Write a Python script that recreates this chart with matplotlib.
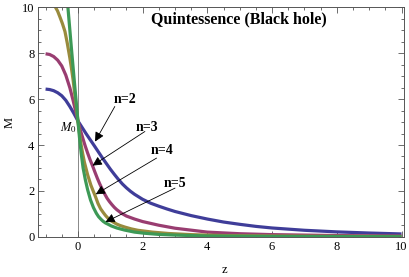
import matplotlib
matplotlib.use("Agg")
import matplotlib.pyplot as plt
from matplotlib.ticker import MultipleLocator

plt.rcParams['font.family'] = ['Liberation Serif', 'DejaVu Serif']
plt.rcParams['mathtext.fontset'] = 'stix'

# curves
z_n2 = [-1, -0.875, -0.75, -0.625, -0.5, -0.375, -0.25, -0.125, 0, 0.25, 0.5, 0.75,
        1.0, 1.125, 1.25, 1.375, 1.5, 1.625, 1.75, 2.0, 2.25, 2.5, 2.75, 3.0, 3.5,
        4.0, 4.5, 5.0, 5.5, 6.0, 7.0, 8.0, 9.0, 10.0]
m_n2 = [6.44, 6.42, 6.37, 6.28, 6.15, 5.95, 5.68, 5.38, 5.05, 4.5, 3.98, 3.45,
        2.95, 2.72, 2.5, 2.3, 2.13, 1.98, 1.85, 1.63, 1.46, 1.33, 1.21, 1.1, 0.92,
        0.77, 0.64, 0.54, 0.45, 0.38, 0.28, 0.21, 0.16, 0.12]

z_n3 = [-1, -0.875, -0.75, -0.625, -0.5, -0.375, -0.25, -0.15, -0.1, -0.05, 0,
        0.075, 0.15, 0.225, 0.3, 0.375, 0.45, 0.525, 0.6, 0.675, 0.75, 0.825, 0.9,
        0.975, 1.05, 1.125, 1.2, 1.35, 1.5, 1.75, 2.0, 2.5, 3.0, 4.0, 5.0, 6.0, 8.0, 10.0]
m_n3 = [7.98, 7.95, 7.86, 7.7, 7.45, 7.05, 6.5, 5.95, 5.65, 5.35, 5.05,
        4.65, 4.3, 3.96, 3.65, 3.36, 3.1, 2.82, 2.55, 2.3, 2.08, 1.87, 1.68,
        1.53, 1.4, 1.28, 1.18, 1.02, 0.9, 0.77, 0.66, 0.5, 0.37, 0.2, 0.13, 0.09, 0.05, 0.03]

z_n4 = [-1, -0.85, -0.71, -0.63, -0.56, -0.48, -0.4, -0.33, -0.25, -0.2, -0.15,
        -0.1, -0.05, 0, 0.05, 0.1, 0.15, 0.2, 0.3, 0.4, 0.47, 0.55, 0.62, 0.7, 0.78,
        0.85, 0.92, 1.0, 1.1, 1.2, 1.3, 1.45, 1.65, 1.85, 2.3, 2.8, 3.5, 4.5, 6.0,
        8.0, 10.0]
m_n4 = [10.6, 10.45, 10.05, 9.85, 9.6, 9.3, 8.95, 8.45, 7.8, 7.35, 6.85,
        6.25, 5.65, 5.05, 4.5, 4.0, 3.6, 3.25, 2.7, 2.25, 2.0, 1.72, 1.45, 1.22, 1.06,
        0.93, 0.82, 0.72, 0.63, 0.55, 0.49, 0.42, 0.34, 0.28, 0.2, 0.14, 0.09, 0.05, 0.03,
        0.015, 0.01]

z_n5 = [-1, -0.8, -0.6, -0.45, -0.33, -0.2, -0.1, 0, 0.05, 0.1, 0.16, 0.23, 0.3,
        0.39, 0.48, 0.57, 0.64, 0.72, 0.78, 0.85, 0.95, 1.03, 1.2, 1.44, 1.75, 2.06,
        2.5, 3.0, 4.0, 6.0, 10.0]
m_n5 = [14.5, 14.1, 13.0, 11.7, 10.35, 8.2, 6.6, 5.05, 4.3, 3.65, 3.0, 2.48, 2.05,
        1.6, 1.27, 1.02, 0.87, 0.75, 0.67, 0.6, 0.53, 0.47, 0.38, 0.29, 0.2, 0.15,
        0.1, 0.07, 0.03, 0.01, 0.0]

labels = ["n=2", "n=3", "n=4", "n=5"]
label_pos = [(1.47, 6.0), (2.13, 4.75), (2.6, 3.75), (3.0, 2.3)]
arrow_start = [(1.14, 5.68), (2.07, 4.59), (2.43, 3.43), (3.0, 2.12)]
arrow_tip = [(0.53, 4.15), (0.45, 3.1), (0.55, 1.85), (0.85, 0.64)]

colors = ["#3F3D99", "#993D71", "#998B3D", "#3D9956"]

fig = plt.figure(figsize=(4.09, 2.77), dpi=100)
ax = fig.add_axes([0.094, 0.1455, 0.894, 0.8275])

ax.axvline(0, color="#888888", lw=0.7, zorder=1)
for zz, mm, c in zip([z_n2, z_n3, z_n4, z_n5], [m_n2, m_n3, m_n4, m_n5], colors):
    ax.plot(zz, mm, color=c, lw=2.3, solid_capstyle="butt", solid_joinstyle="round", zorder=2)

ax.set_xlim(-1.22, 10.08)
ax.set_ylim(0, 10)

ax.xaxis.set_major_locator(MultipleLocator(2))
ax.xaxis.set_minor_locator(MultipleLocator(0.5))
ax.yaxis.set_major_locator(MultipleLocator(2))
ax.yaxis.set_minor_locator(MultipleLocator(0.5))
ax.tick_params(which="both", direction="in", top=True, right=True,
               color="#555555", labelsize=9, width=0.6)
ax.tick_params(which="major", length=4, pad=3)
ax.tick_params(which="minor", length=2)
for s in ax.spines.values():
    s.set_color("#555555")
    s.set_linewidth(0.7)

ax.set_xlabel("z", fontsize=9)
ax.set_ylabel("M", fontsize=9)
ax.xaxis.set_label_coords(0.508, -0.12)
ax.yaxis.set_label_coords(-0.062, 0.5)

ax.text(0.549, 0.95, "Quintessence (Black hole)", transform=ax.transAxes,
        ha="center", va="center", fontsize=11.5, fontweight="bold")
ax.text(-0.03, 4.75, "$M_0$", ha="right", va="center", fontsize=9)

for lab, lp, st, tp in zip(labels, label_pos, arrow_start, arrow_tip):
    ax.text(lp[0], lp[1], lab, ha="center", va="center", fontsize=10, fontweight="bold")
    ax.annotate("", xy=tp, xytext=st,
                arrowprops=dict(arrowstyle="-|>", color="black", lw=0.6,
                                shrinkA=0, shrinkB=0, mutation_scale=14))

fig.savefig("out.png", dpi=100)
